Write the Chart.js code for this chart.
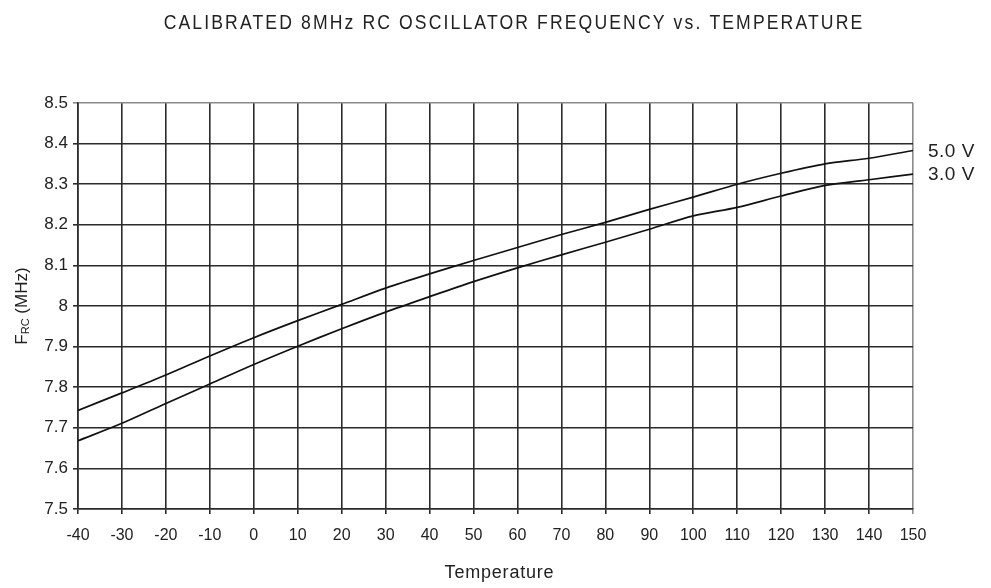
<!DOCTYPE html>
<html>
<head>
<meta charset="utf-8">
<script src="https://cdn.jsdelivr.net/npm/chart.js@4/dist/chart.umd.min.js"></script>
<style>
  html, body { margin: 0; padding: 0; background: #fff; }
  #wrap { width: 991px; height: 588px; }
</style>
</head>
<body>
<div id="wrap"><canvas id="chart"></canvas></div>
<script>
// temperature (C) and calibrated RC frequency (MHz)
const temps = [-40, -30, -20, -10, 0, 10, 20, 30, 40, 50, 60, 70, 80, 90, 100, 110, 120, 130, 140, 150];
const freq5V = [7.743, 7.786, 7.830, 7.877, 7.922, 7.964, 8.004, 8.044, 8.079, 8.112, 8.144, 8.176, 8.206, 8.238, 8.268, 8.300, 8.327, 8.350, 8.364, 8.383];
const freq3V = [7.668, 7.711, 7.760, 7.808, 7.856, 7.901, 7.944, 7.985, 8.023, 8.060, 8.094, 8.126, 8.157, 8.189, 8.222, 8.243, 8.271, 8.297, 8.311, 8.325];
const seriesLabels = ['5.0 V', '3.0 V'];
const yMin = 7.5, yMax = 8.5, yStep = 0.1;
const xMin = -40, xMax = 150, xStep = 10;

const FONT = '"Liberation Sans", Arial, sans-serif';
const gridDark = '#2b2b2b';
const gridGrey = '#8a8a8a';

// title, axis labels (with subscript) and end-of-line labels
const extraText = {
    id: 'extraText',
    afterDraw(chart) {
        const ctx = chart.ctx;
        const area = chart.chartArea;
        const y = chart.scales.y;
        const mid = (area.left + area.right) / 2;
        ctx.save();
        ctx.fillStyle = '#222';
        ctx.textAlign = 'center';
        ctx.textBaseline = 'middle';

        // title is set in a condensed face in the original, squeeze it a bit
        ctx.save();
        ctx.translate(514, 23);
        ctx.scale(0.88, 1);
        ctx.font = '20px ' + FONT;
        ctx.letterSpacing = '2.4px';
        ctx.fillText('CALIBRATED 8MHz RC OSCILLATOR FREQUENCY vs. TEMPERATURE', 0, 0);
        ctx.restore();

        ctx.font = '18px ' + FONT;
        ctx.letterSpacing = '0.8px';
        ctx.fillText('Temperature', mid + 4, 573);
        ctx.letterSpacing = '0px';

        // rotated "F_RC (MHz)"
        ctx.translate(22, (area.top + area.bottom) / 2);
        ctx.rotate(-Math.PI / 2);
        ctx.textAlign = 'left';
        const parts = [['F', 17, 0], ['RC', 11, 4], [' (MHz)', 17, 0]];
        let total = 0;
        parts.forEach(p => { ctx.font = p[1] + 'px ' + FONT; total += ctx.measureText(p[0]).width; });
        let x = -total / 2;
        parts.forEach(p => {
            ctx.font = p[1] + 'px ' + FONT;
            ctx.fillText(p[0], x, p[2]);
            x += ctx.measureText(p[0]).width;
        });
        ctx.restore();

        ctx.save();
        ctx.fillStyle = '#222';
        ctx.font = '19px ' + FONT;
        ctx.letterSpacing = '0.5px';
        ctx.textAlign = 'left';
        ctx.textBaseline = 'middle';
        ctx.fillText(seriesLabels[0], area.right + 15, y.getPixelForValue(freq5V[freq5V.length - 1]) + 1);
        ctx.fillText(seriesLabels[1], area.right + 15, y.getPixelForValue(freq3V[freq3V.length - 1]) + 1);
        ctx.restore();
    }
};

new Chart(document.getElementById('chart'), {
    type: 'line',
    data: {
        datasets: [
            {
                label: seriesLabels[0],
                data: temps.map((t, i) => ({ x: t, y: freq5V[i] })),
                borderColor: '#111',
                borderWidth: 1.7,
                pointRadius: 0,
                tension: 0.3,
                fill: false
            },
            {
                label: seriesLabels[1],
                data: temps.map((t, i) => ({ x: t, y: freq3V[i] })),
                borderColor: '#111',
                borderWidth: 1.7,
                pointRadius: 0,
                tension: 0.3,
                fill: false
            }
        ]
    },
    options: {
        responsive: true,
        maintainAspectRatio: false,
        animation: false,
        layout: { padding: { left: 0, right: 78, top: 103, bottom: 0 } },
        plugins: {
            legend: { display: false },
            title: { display: false },
            tooltip: { enabled: false }
        },
        scales: {
            x: {
                type: 'linear',
                min: xMin,
                max: xMax,
                ticks: {
                    stepSize: xStep,
                    color: '#222',
                    font: { family: FONT, size: 16 },
                    padding: 12,
                    maxRotation: 0
                },
                grid: {
                    color: ctx => ctx.tick && ctx.tick.value === xMax ? gridGrey : gridDark,
                    lineWidth: 1.6,
                    tickLength: 5
                },
                border: { color: gridDark, width: 1.6 },
                afterFit(scale) { scale.height = 79; }
            },
            y: {
                min: yMin,
                max: yMax,
                ticks: {
                    stepSize: yStep,
                    color: '#222',
                    font: { family: FONT, size: 17 },
                    padding: 5,
                    callback: v => Number(v.toFixed(1)).toString()
                },
                grid: {
                    color: ctx => ctx.tick && Math.abs(ctx.tick.value - yMax) < 1e-6 ? gridGrey : gridDark,
                    lineWidth: 1.6,
                    tickLength: 5
                },
                border: { color: gridDark, width: 1.6 },
                afterFit(scale) { scale.width = 78; }
            }
        }
    },
    plugins: [extraText]
});
</script>
</body>
</html>
